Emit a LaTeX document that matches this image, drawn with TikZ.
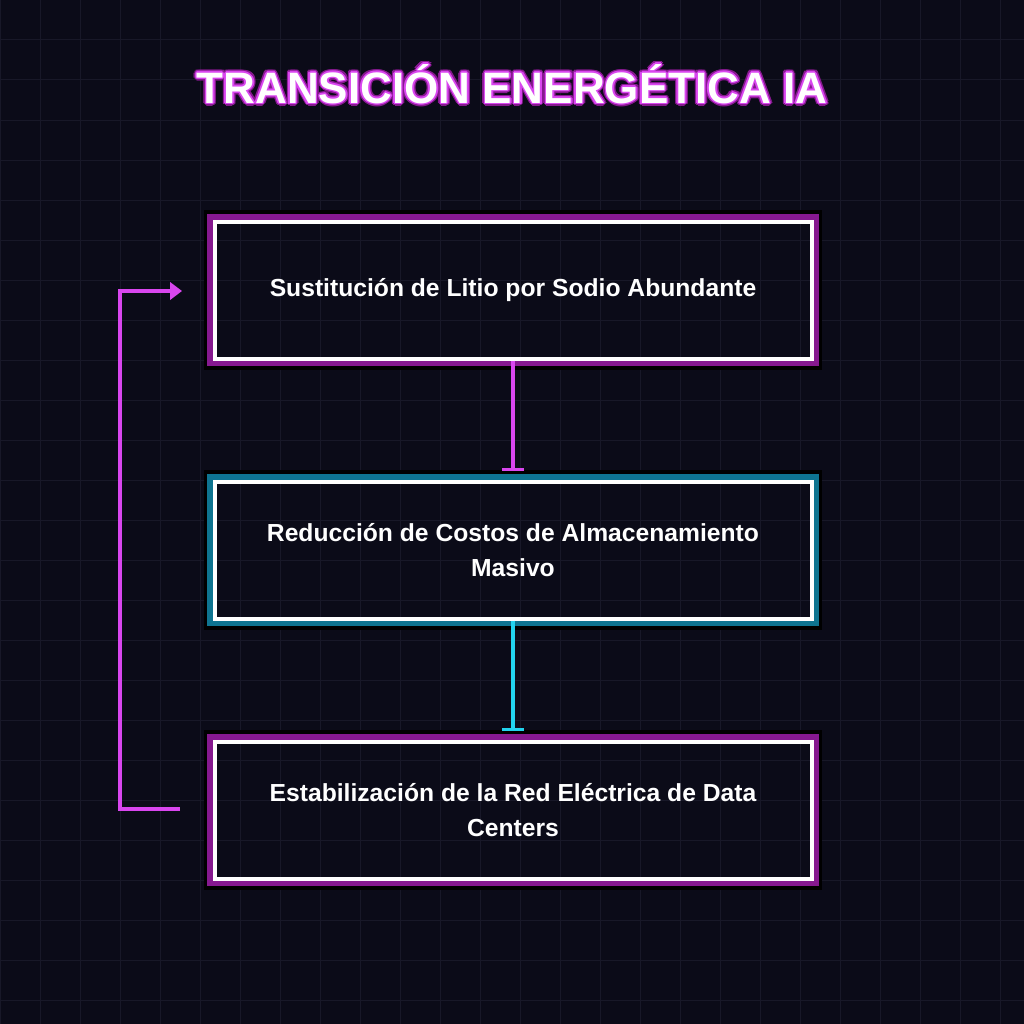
\documentclass[tikz,border=0pt]{standalone}
\usepackage{fontspec}
\setmainfont{Liberation Sans}
\usetikzlibrary{arrows.meta,calc}
\definecolor{bg}{HTML}{0B0B18}
\definecolor{gridc}{HTML}{181828}
\definecolor{mag}{HTML}{D946EF}
\definecolor{magd}{HTML}{86198F}
\definecolor{cya}{HTML}{22D3EE}
\definecolor{cyad}{HTML}{0E7490}
\begin{document}
\begin{tikzpicture}[x=0.75pt,y=-0.75pt,
  box/.style={draw=white,line width=3pt,minimum width=597*0.75pt,minimum height=137*0.75pt,align=center,font=\bfseries\fontsize{18.5}{26}\selectfont,text=white,inner sep=0pt},
  conn/.style={line width=2.8pt},
  ttl/.style={font=\bfseries\fontsize{33}{40}\selectfont}]
\fill[bg] (0,0) rectangle (1024,1024);
\useasboundingbox (0,0) rectangle (1024,1024);
\foreach \i in {0,40,...,1000}{\draw[gridc,line width=0.75pt] (\i,0)--(\i,1024); \draw[gridc,line width=0.75pt] (0,\i)--(1024,\i);}
% glows
\foreach \y/\c in {290/magd,550/cyad,810/magd}{
  \draw[black,line width=6pt] (208,\y-76) rectangle (818,\y+76);
  \draw[\c,line width=4pt] (210,\y-73) rectangle (816,\y+73);
}
\node[box] (a) at (513,290) {Sustitución de Litio por Sodio Abundante};
\node[box] (b) at (513,550) {Reducción de Costos de Almacenamiento\\Masivo};
\node[box] (c) at (513,810) {Estabilización de la Red Eléctrica de Data\\Centers};
\coordinate (bt) at (513,471);
\coordinate (ct) at (513,731);
\draw[conn,mag,-{Bar[width=16pt,line width=2pt]}] (a.south) -- (bt);
\draw[conn,cya,-{Bar[width=16pt,line width=2pt]}] (b.south) -- (ct);
\coordinate (l1) at (180,809);
\coordinate (l2) at (182,291);
\draw[conn,mag,-{Triangle[length=9pt,width=13pt]}] (l1) -- (120,809) -- (120,291) -- (l2);
% title
\foreach \a in {0,30,...,330}{
  \node[ttl,text=magd] at ($(512,84)+(\a:3)$) {TRANSICIÓN ENERGÉTICA IA};}
\foreach \a in {0,45,...,315}{
  \node[ttl,text=mag] at ($(512,84)+(\a:1.6)$) {TRANSICIÓN ENERGÉTICA IA};}
\node[ttl,text=white] (t) at (512,84) {TRANSICIÓN ENERGÉTICA IA};
\end{tikzpicture}
\end{document}
